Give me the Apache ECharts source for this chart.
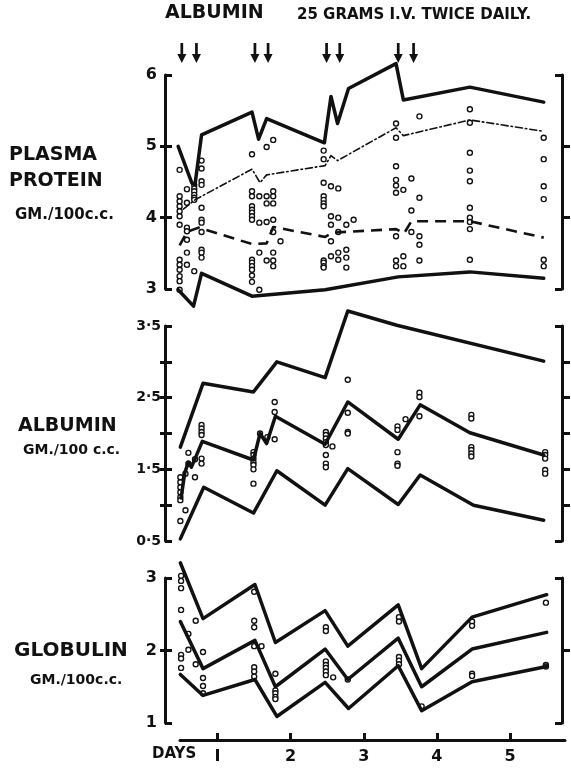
<!DOCTYPE html>
<html>
<head>
<meta charset="utf-8">
<title>Plasma protein, albumin, globulin</title>
<style>
  html, body { margin: 0; padding: 0; background: #fff; }
  #chart { width: 571px; height: 769px; }
</style>
</head>
<body>
<div id="chart"></div>
<script src="https://cdn.jsdelivr.net/npm/echarts@6/dist/echarts.min.js"></script>
<script>
// days when 25 g albumin was given
var doseDays = [0.51, 0.71, 1.51, 1.69, 2.49, 2.67, 3.47, 3.68];
var dayTicks = [1, 2, 3, 4, 5];

// plasma protein (gm/100cc)
var proteinHigh = [[0.46,5.0],[0.645,4.49],[0.69,4.46],[0.78,5.16],[1.47,5.48],[1.56,5.1],[1.67,5.39],[2.46,5.05],[2.55,5.70],[2.64,5.32],[2.79,5.81],[3.44,6.16],[3.54,5.65],[4.45,5.83],[5.46,5.62]];
var proteinMeanHigh = [[0.53,4.12],[0.69,4.25],[1.47,4.68],[1.58,4.49],[1.67,4.6],[2.47,4.73],[2.55,4.87],[2.64,4.8],[3.44,5.26],[3.54,5.15],[4.45,5.37],[5.46,5.21]];
var proteinMeanLow = [[0.48,3.61],[0.58,3.8],[0.74,3.86],[1.47,3.63],[1.67,3.64],[1.76,3.87],[2.47,3.73],[2.57,3.79],[3.44,3.84],[3.55,3.78],[3.65,3.95],[4.45,3.95],[5.46,3.72]];
var proteinLow = [[0.46,2.99],[0.67,2.76],[0.78,3.22],[1.47,2.9],[2.47,2.99],[3.47,3.17],[4.45,3.24],[5.46,3.15]];
var proteinDots = [
  [0.48,4.67],[0.48,4.30],[0.48,4.23],[0.48,4.16],[0.48,4.09],[0.48,4.02],[0.48,3.90],[0.48,3.41],[0.48,3.34],[0.48,3.27],[0.48,3.18],[0.48,3.11],[0.48,2.99],
  [0.58,4.40],[0.58,4.21],[0.58,3.86],[0.58,3.81],[0.58,3.69],[0.58,3.51],[0.58,3.34],
  [0.68,4.46],[0.68,4.41],[0.68,4.37],[0.68,4.32],[0.68,4.28],[0.68,4.25],[0.68,3.25],
  [0.78,4.80],[0.78,4.69],[0.78,4.51],[0.78,4.46],[0.78,4.14],[0.78,3.97],[0.78,3.93],[0.78,3.80],[0.78,3.55],[0.78,3.51],[0.78,3.44],
  [1.47,4.89],[1.47,4.37],[1.47,4.30],[1.47,4.16],[1.47,4.11],[1.47,4.07],[1.47,4.02],[1.47,3.97],[1.47,3.41],[1.47,3.37],[1.47,3.32],[1.47,3.27],[1.47,3.19],[1.47,3.10],
  [1.57,4.30],[1.57,3.93],[1.57,3.51],[1.57,2.99],
  [1.67,4.99],[1.67,4.30],[1.67,4.20],[1.67,3.94],[1.67,3.40],
  [1.76,5.09],[1.76,4.37],[1.76,4.30],[1.76,4.20],[1.76,3.97],[1.76,3.80],[1.76,3.51],[1.76,3.40],[1.76,3.32],
  [1.86,3.67],
  [2.45,4.94],[2.45,4.82],[2.45,4.49],[2.45,4.30],[2.45,4.25],[2.45,4.20],[2.45,4.16],[2.45,3.40],[2.45,3.37],[2.45,3.32],[2.45,3.30],
  [2.55,4.44],[2.55,4.02],[2.55,3.90],[2.55,3.67],[2.55,3.46],
  [2.65,4.41],[2.65,4.00],[2.65,3.80],[2.65,3.51],[2.65,3.41],
  [2.76,3.90],[2.76,3.55],[2.76,3.44],[2.76,3.30],[2.86,3.97],
  [3.44,5.32],[3.44,5.12],[3.44,4.72],[3.44,4.53],[3.44,4.45],[3.44,4.35],[3.44,3.74],[3.44,3.40],[3.44,3.32],
  [3.54,4.39],[3.54,3.46],[3.54,3.32],
  [3.65,4.55],[3.65,4.10],[3.65,3.80],
  [3.76,5.42],[3.76,4.28],[3.76,3.74],[3.76,3.62],[3.76,3.40],
  [4.45,5.52],[4.45,5.33],[4.45,4.91],[4.45,4.66],[4.45,4.51],[4.45,4.14],[4.45,4.00],[4.45,3.94],[4.45,3.84],[4.45,3.41],
  [5.46,5.12],[5.46,4.82],[5.46,4.44],[5.46,4.26],[5.46,3.41],[5.46,3.32]
];

// albumin (gm/100cc)
var albuminHigh = [[0.49,1.81],[0.80,2.70],[1.49,2.58],[1.81,3.00],[2.47,2.78],[2.78,3.71],[3.45,3.51],[5.46,3.01]];
var albuminMid = [[0.5,1.1],[0.55,1.45],[0.6,1.6],[0.64,1.53],[0.7,1.67],[0.79,1.89],[1.49,1.63],[1.58,2.00],[1.67,1.86],[1.79,2.24],[2.47,1.85],[2.78,2.44],[3.47,1.92],[3.77,2.40],[4.45,2.01],[5.46,1.70]];
var albuminLow = [[0.49,0.53],[0.81,1.25],[1.49,0.89],[1.81,1.48],[2.47,1.0],[2.78,1.51],[3.47,1.01],[3.77,1.42],[4.50,1.00],[5.46,0.79]];
var albuminDots = [
  [0.49,1.39],[0.49,1.32],[0.49,1.25],[0.49,1.18],[0.49,1.11],[0.49,1.07],[0.49,0.78],
  [0.56,0.93],[0.56,1.44],[0.60,1.73],[0.60,1.58],[0.69,1.39],[0.69,1.64],
  [0.78,2.12],[0.78,2.07],[0.78,2.02],[0.78,1.98],[0.78,1.65],[0.78,1.58],
  [1.49,1.74],[1.49,1.70],[1.49,1.65],[1.49,1.60],[1.49,1.56],[1.49,1.50],[1.49,1.30],
  [1.58,2.00],[1.68,1.95],[1.78,2.44],[1.78,2.30],[1.78,1.92],
  [2.48,2.02],[2.48,1.98],[2.48,1.93],[2.48,1.88],[2.48,1.84],[2.48,1.70],[2.48,1.58],[2.48,1.53],
  [2.57,1.82],[2.78,2.75],[2.78,2.29],[2.78,2.02],[2.78,2.00],
  [3.46,2.10],[3.46,2.05],[3.46,1.74],[3.46,1.58],[3.46,1.55],[3.57,2.20],
  [3.76,2.57],[3.76,2.51],[3.76,2.24],
  [4.47,2.26],[4.47,2.21],[4.47,1.81],[4.47,1.77],[4.47,1.72],[4.47,1.68],
  [5.48,1.74],[5.48,1.70],[5.48,1.65],[5.48,1.49],[5.48,1.44]
];

// globulin (gm/100cc)
var globulinHigh = [[0.49,3.21],[0.80,2.44],[1.51,2.91],[1.79,2.11],[2.47,2.55],[2.78,2.06],[3.47,2.63],[3.79,1.75],[4.48,2.46],[5.50,2.77]];
var globulinMid = [[0.49,2.40],[0.80,1.75],[1.51,2.14],[1.79,1.50],[2.47,2.02],[2.78,1.60],[3.47,2.17],[3.79,1.50],[4.48,2.02],[5.50,2.25]];
var globulinLow = [[0.49,1.67],[0.80,1.38],[1.51,1.60],[1.81,1.09],[2.47,1.56],[2.79,1.20],[3.47,1.79],[3.79,1.17],[4.48,1.57],[5.50,1.78]];
var globulinDots = [
  [0.50,3.03],[0.50,2.96],[0.50,2.86],[0.50,2.56],[0.50,1.94],[0.50,1.89],[0.50,1.76],
  [0.60,2.23],[0.60,2.01],[0.70,2.41],[0.70,1.81],
  [0.80,1.98],[0.80,1.62],[0.80,1.51],[0.80,1.41],
  [1.50,2.81],[1.50,2.41],[1.50,2.32],[1.50,2.06],[1.50,1.77],[1.50,1.71],[1.50,1.64],[1.60,2.06],
  [1.79,1.68],[1.79,1.45],[1.79,1.41],[1.79,1.36],[1.79,1.33],
  [2.48,2.32],[2.48,2.27],[2.48,1.85],[2.48,1.80],[2.48,1.76],[2.48,1.71],[2.48,1.66],
  [2.58,1.63],[2.78,1.60],
  [3.48,2.46],[3.48,2.40],[3.48,1.91],[3.48,1.86],[3.48,1.81],[3.79,1.23],
  [4.48,2.40],[4.48,2.34],[4.48,1.68],[4.48,1.65],
  [5.49,2.66],[5.49,1.80],[5.49,1.78]
];

// axis setup per panel
var panelMin = [3, 0.5, 1];
var panelMax = [6, 3.5, 3];
var panelLabels = [[3, 4, 5, 6], [0.5, 1.5, 2.5, 3.5], [1, 2, 3]];
var panelTicks = [[4, 5], [1, 1.5, 2, 2.5, 3], [2]];

var FONT = 'DejaVu Sans';
var ink = '#111';
var chart = echarts.init(document.getElementById('chart'));

var grids = [
  { left: 165, right: 9, top: 75, height: 214 },
  { left: 165, right: 9, top: 326, height: 215 },
  { left: 165, right: 9, top: 578, height: 145 },
  { left: 180, right: 6, top: 739, height: 1 }
];

var xAxes = [];
var yAxes = [];
for (var g = 0; g < 3; g++) {
  xAxes.push({ type: 'value', gridIndex: g, min: 0.28, max: 5.71, show: false });
  var ends = [panelMin[g], panelMax[g]];
  var base = { type: 'value', gridIndex: g, min: panelMin[g], max: panelMax[g], splitLine: { show: false } };
  // left: line + labels + outward ticks
  yAxes.push(Object.assign({}, base, {
    position: 'left',
    axisLine: { show: true, lineStyle: { color: ink, width: 3 } },
    axisTick: { show: true, length: 5, customValues: panelTicks[g], lineStyle: { color: ink, width: 3 } },
    axisLabel: {
      customValues: panelLabels[g], margin: g == 1 ? 4 : 8,
      color: ink, fontFamily: FONT, fontWeight: 'bold', fontSize: g == 1 ? 14 : 16,
      formatter: function (v) { return String(v).replace('.', '\u00b7'); }
    }
  }));
  // left: inward stubs
  yAxes.push(Object.assign({}, base, {
    position: 'left',
    axisLine: { show: false },
    axisTick: { show: true, inside: true, length: 7, customValues: ends.concat(panelTicks[g]), lineStyle: { color: ink, width: 3 } },
    axisLabel: { show: false }
  }));
  // right: line + outward ticks
  yAxes.push(Object.assign({}, base, {
    position: 'right',
    axisLine: { show: true, lineStyle: { color: ink, width: 3 } },
    axisTick: { show: true, length: 8, customValues: panelTicks[g], lineStyle: { color: ink, width: 3 } },
    axisLabel: { show: false }
  }));
  // right: inward stubs at ends
  yAxes.push(Object.assign({}, base, {
    position: 'right',
    axisLine: { show: false },
    axisTick: { show: true, inside: true, length: 7, customValues: ends, lineStyle: { color: ink, width: 3 } },
    axisLabel: { show: false }
  }));
}
// days axis
xAxes.push({
  type: 'value', gridIndex: 3, min: 0.486, max: 5.752,
  splitLine: { show: false },
  axisLine: { show: true, lineStyle: { color: ink, width: 3 } },
  axisTick: { show: true, inside: true, length: 7, customValues: dayTicks, lineStyle: { color: ink, width: 3 } },
  axisLabel: {
    customValues: dayTicks, margin: 9, color: ink, fontFamily: FONT, fontWeight: 'bold', fontSize: 16,
    formatter: function (v) { return v == 1 ? 'I' : String(v); }
  }
});
yAxes.push({ type: 'value', gridIndex: 3, min: 0, max: 1, show: false });

function curve(g, data, style) {
  return {
    type: 'line', xAxisIndex: g, yAxisIndex: g * 4, data: data,
    symbol: 'none', clip: false, silent: true,
    lineStyle: Object.assign({ color: ink, width: 3.5, cap: 'round', join: 'round' }, style || {})
  };
}
function dots(g, data) {
  return {
    type: 'scatter', xAxisIndex: g, yAxisIndex: g * 4, data: data,
    symbol: 'circle', symbolSize: 5, clip: false, silent: true,
    itemStyle: { color: '#fff', borderColor: ink, borderWidth: 1.4, opacity: 1 }
  };
}

var series = [
  dots(0, proteinDots),
  curve(0, proteinHigh),
  curve(0, proteinMeanHigh, { width: 1.6, type: [7, 3, 1.5, 3] }),
  curve(0, proteinMeanLow, { width: 2.6, type: [11, 7], cap: 'butt' }),
  curve(0, proteinLow),
  dots(1, albuminDots),
  curve(1, albuminHigh),
  curve(1, albuminMid),
  curve(1, albuminLow),
  dots(2, globulinDots),
  curve(2, globulinHigh),
  curve(2, globulinMid),
  curve(2, globulinLow),
  {
    // dose arrows above the top panel
    type: 'scatter', xAxisIndex: 0, yAxisIndex: 0, clip: false, silent: true,
    data: doseDays.map(function (d) { return [d, 6.31]; }),
    symbol: 'path://M3.5,0 L6.5,0 L6.5,11 L10,11 L5,20 L0,11 L3.5,11 Z',
    symbolSize: [9, 20],
    itemStyle: { color: ink, opacity: 1 }
  }
];

function label(x, y, text, size) {
  return {
    type: 'text', left: x, top: y,
    style: { text: text, fill: ink, font: 'bold ' + size + 'px "' + FONT + '"' }
  };
}

var option = {
  backgroundColor: '#fff',
  animation: false,
  grid: grids,
  xAxis: xAxes,
  yAxis: yAxes,
  series: series,
  graphic: [
    label(165, 4, 'ALBUMIN', 19),
    label(297, 8, '25 GRAMS I.V. TWICE DAILY.', 15),
    label(9, 146, 'PLASMA', 19),
    label(9, 172, 'PROTEIN', 19),
    label(15, 208, 'GM./100c.c.', 15),
    label(18, 417, 'ALBUMIN', 19),
    label(23, 443, 'GM./100 c.c.', 14),
    label(14, 641, 'GLOBULIN', 20),
    label(30, 673, 'GM./100c.c.', 14),
    label(152, 747, 'DAYS', 15)
  ]
};
chart.setOption(option);
</script>
</body>
</html>
